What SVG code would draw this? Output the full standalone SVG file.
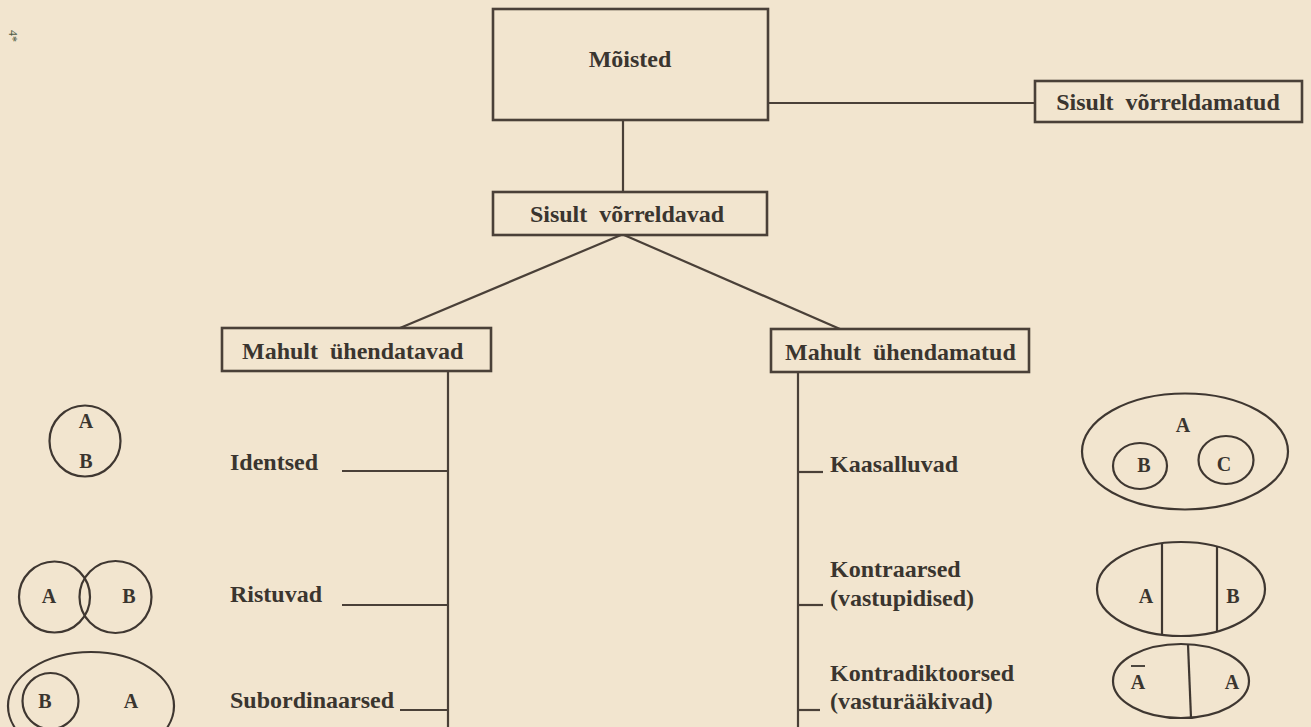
<svg xmlns="http://www.w3.org/2000/svg" width="1311" height="727" viewBox="0 0 1311 727">
<style>
.box{fill:none;stroke:#4a4038;stroke-width:2.6}
.con{fill:none;stroke:#4a4038;stroke-width:2.2}
.shape{fill:none;stroke:#3f3731;stroke-width:2.2}
.t{font-family:"Liberation Serif","Times New Roman",serif;font-weight:bold;font-size:24px;fill:#3a352f}
.c{text-anchor:middle}
.s{font-family:"Liberation Serif","Times New Roman",serif;font-weight:bold;font-size:20px;fill:#3a352f;text-anchor:middle}
</style>
<rect width="1311" height="727" fill="#f2e5cf"/>
<text x="0" y="0" transform="translate(9,30) rotate(90)" style="font-family:'Liberation Serif',serif;font-size:12px;fill:#4f5a45">4*</text>

<g id="connectors">
  <line class="con" x1="623" y1="120" x2="623" y2="192"/>
  <line class="con" x1="768" y1="103" x2="1035" y2="103"/>
  <line class="con" x1="621" y1="235" x2="400" y2="328"/>
  <line class="con" x1="624" y1="235" x2="840" y2="329"/>
  <line class="con" x1="448" y1="371" x2="448" y2="727"/>
  <line class="con" x1="798" y1="372" x2="798" y2="727"/>
  <line class="con" x1="342" y1="471" x2="448" y2="471"/>
  <line class="con" x1="342" y1="605" x2="448" y2="605"/>
  <line class="con" x1="400" y1="710" x2="448" y2="710"/>
  <line class="con" x1="798" y1="472" x2="823" y2="472"/>
  <line class="con" x1="798" y1="605" x2="823" y2="605"/>
  <line class="con" x1="798" y1="710" x2="820" y2="710"/>
</g>

<g id="moisted">
  <rect class="box" x="493" y="9" width="275" height="111"/>
  <text class="t c" x="630" y="67">Mõisted</text>
</g>
<g id="sisult-vorreldamatud">
  <rect class="box" x="1035" y="81" width="267" height="41"/>
  <text class="t c" x="1168" y="110" xml:space="preserve">Sisult  võrreldamatud</text>
</g>
<g id="sisult-vorreldavad">
  <rect class="box" x="493" y="192" width="274" height="43"/>
  <text class="t c" x="627" y="222" xml:space="preserve">Sisult  võrreldavad</text>
</g>
<g id="mahult-uhendatavad">
  <rect class="box" x="222" y="328" width="269" height="43"/>
  <text class="t" x="242" y="359" xml:space="preserve">Mahult  ühendatavad</text>
</g>
<g id="mahult-uhendamatud">
  <rect class="box" x="771" y="329" width="258" height="43"/>
  <text class="t" x="785" y="360" xml:space="preserve">Mahult  ühendamatud</text>
</g>

<g id="identsed"><text class="t" x="230" y="470">Identsed</text></g>
<g id="ristuvad"><text class="t" x="230" y="602">Ristuvad</text></g>
<g id="subordinaarsed"><text class="t" x="230" y="708">Subordinaarsed</text></g>
<g id="kaasalluvad"><text class="t" x="830" y="472">Kaasalluvad</text></g>
<g id="kontraarsed"><text class="t" x="830" y="577">Kontraarsed</text><text class="t" x="830" y="606">(vastupidised)</text></g>
<g id="kontradiktoorsed"><text class="t" x="830" y="681">Kontradiktoorsed</text><text class="t" x="830" y="709">(vasturääkivad)</text></g>

<g id="diagram-identsed">
  <circle class="shape" cx="85" cy="441" r="35.5"/>
  <text class="s" x="86" y="428">A</text>
  <text class="s" x="86" y="468">B</text>
</g>
<g id="diagram-ristuvad">
  <circle class="shape" cx="54.5" cy="597" r="35.5"/>
  <circle class="shape" cx="115.5" cy="597" r="36"/>
  <text class="s" x="49" y="603">A</text>
  <text class="s" x="129" y="603">B</text>
</g>
<g id="diagram-subordinaarsed">
  <ellipse class="shape" cx="91" cy="706" rx="83" ry="54"/>
  <circle class="shape" cx="50.5" cy="701" r="28"/>
  <text class="s" x="45" y="708">B</text>
  <text class="s" x="131" y="708">A</text>
</g>

<g id="diagram-kaasalluvad">
  <ellipse class="shape" cx="1185" cy="451.5" rx="103" ry="58"/>
  <ellipse class="shape" cx="1140" cy="466" rx="27" ry="23"/>
  <ellipse class="shape" cx="1226" cy="460" rx="27.5" ry="24"/>
  <text class="s" x="1183" y="432">A</text>
  <text class="s" x="1144" y="472">B</text>
  <text class="s" x="1224" y="471">C</text>
</g>
<g id="diagram-kontraarsed">
  <ellipse class="shape" cx="1181" cy="589" rx="84" ry="47"/>
  <line class="shape" x1="1162" y1="543" x2="1162" y2="635"/>
  <line class="shape" x1="1217" y1="546.5" x2="1217" y2="631.5"/>
  <text class="s" x="1146" y="603">A</text>
  <text class="s" x="1233" y="603">B</text>
</g>
<g id="diagram-kontradiktoorsed">
  <ellipse class="shape" cx="1181" cy="681" rx="68" ry="37"/>
  <line class="shape" x1="1188" y1="644.5" x2="1191" y2="717.8"/>
  <text class="s" x="1138" y="689">A</text>
  <line x1="1131" y1="666" x2="1145" y2="666" stroke="#3a352f" stroke-width="1.8"/>
  <text class="s" x="1232" y="689">A</text>
</g>
</svg>
